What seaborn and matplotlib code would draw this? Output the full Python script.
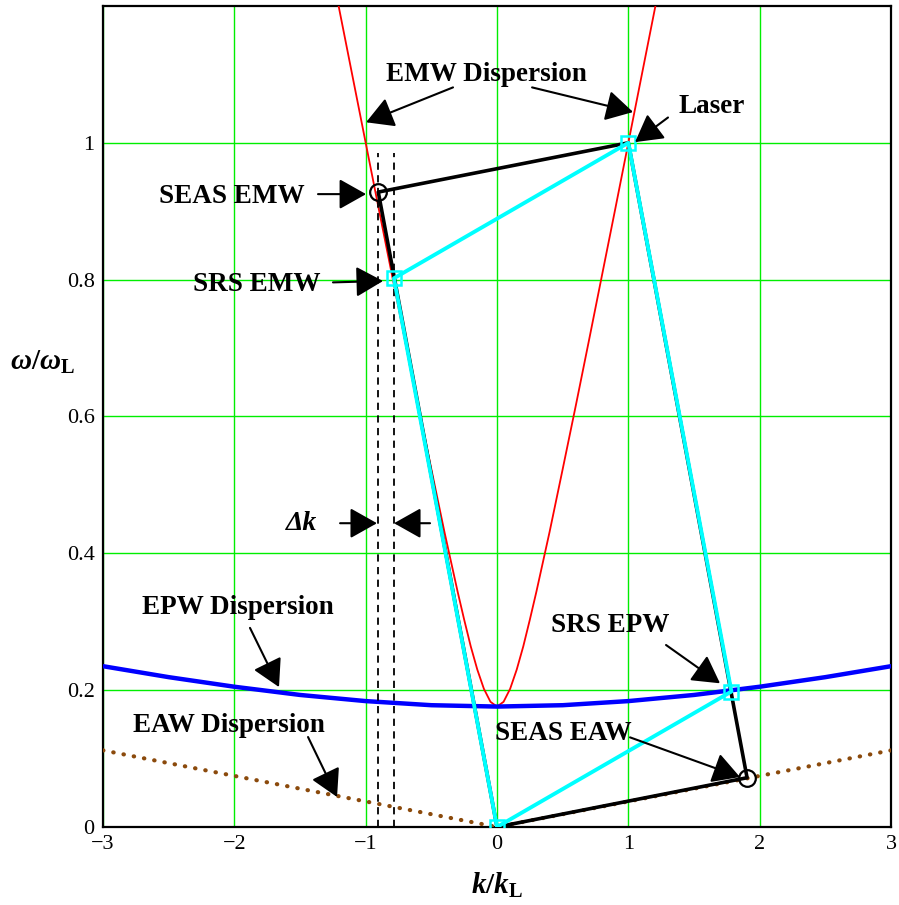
import matplotlib
matplotlib.use("Agg")
import matplotlib.pyplot as plt
import seaborn as sns
import pandas as pd

# --- dispersion curves (normalised to the laser frequency / wavenumber) ---
# EMW branch, values for k >= 0 (curve is symmetric in k)
k_emw_half = [0.0, 0.05, 0.1, 0.15, 0.2, 0.25, 0.3, 0.4, 0.5, 0.6, 0.7, 0.8, 0.9, 1.0, 1.1, 1.2, 1.3]
w_emw_half = [0.176, 0.183, 0.202, 0.230, 0.264, 0.303, 0.344, 0.431, 0.523, 0.616, 0.711,
              0.807, 0.903, 1.000, 1.097, 1.194, 1.292]

# EPW (Bohm-Gross) branch, k >= 0
k_epw_half = [0.0, 0.5, 1.0, 1.5, 2.0, 2.5, 3.0]
w_epw_half = [0.176, 0.178, 0.184, 0.193, 0.205, 0.219, 0.235]

# EAW (ion acoustic) branch
k_eaw = [-3.0, 0.0, 3.0]
w_eaw = [0.112, 0.0, 0.112]

# --- matched waves ---
k_laser, w_laser = 1.0, 1.0
k_seas_emw, w_seas_emw = -0.904, 0.928
k_seas_eaw, w_seas_eaw = 1.904, 0.072
k_srs_emw, w_srs_emw = -0.785, 0.802
k_srs_epw, w_srs_epw = 1.785, 0.198

x_ticks = [-3, -2, -1, 0, 1, 2, 3]
y_ticks = [0, 0.2, 0.4, 0.6, 0.8, 1.0]
y_tick_labels = ["0", "0.2", "0.4", "0.6", "0.8", "1"]


def mirror(ks, ws):
    kk = [-k for k in reversed(ks[1:])] + list(ks)
    ww = list(reversed(ws[1:])) + list(ws)
    return kk, ww


k_emw, w_emw = mirror(k_emw_half, w_emw_half)
k_epw, w_epw = mirror(k_epw_half, w_epw_half)

sns.set_style("white")
plt.rcParams["font.family"] = ["Liberation Serif", "DejaVu Serif"]
plt.rcParams["text.color"] = "black"
plt.rcParams["xtick.color"] = "black"
plt.rcParams["ytick.color"] = "black"
plt.rcParams["mathtext.fontset"] = "custom"
plt.rcParams["mathtext.it"] = "Liberation Serif:bold:italic"
plt.rcParams["mathtext.rm"] = "Liberation Serif:bold"
plt.rcParams["mathtext.bf"] = "Liberation Serif:bold"

fig = plt.figure(figsize=(8.99, 9.05), dpi=100)
ax = fig.add_axes([0.1146, 0.0862, 0.8765, 0.9072])

# grid
for xt in x_ticks:
    ax.axvline(xt, color="#00ee00", lw=1.0, zorder=0)
for yt in y_ticks:
    ax.axhline(yt, color="#00ee00", lw=1.0, zorder=0)

# dispersion curves
sns.lineplot(x=k_emw, y=w_emw, ax=ax, color="#ff0000", lw=1.3, sort=False,
             estimator=None, zorder=3)
sns.lineplot(x=k_epw, y=w_epw, ax=ax, color="#0000ff", lw=3.2, sort=False,
             estimator=None, zorder=3)
sns.lineplot(x=k_eaw, y=w_eaw, ax=ax, color="#8b4a0c", lw=3.0, sort=False,
             estimator=None, zorder=3, dashes=False,
             linestyle=(0, (0.1, 2.4)), dash_capstyle="round")

# delta-k markers
for kd in (k_seas_emw, k_srs_emw):
    ax.plot([kd, kd], [0, 0.985], color="black", lw=1.3, ls=(0, (4, 3)), zorder=4)

# SEAS parallelogram
seas = pd.DataFrame({
    "k": [0.0, k_seas_emw, k_laser, k_seas_eaw, 0.0],
    "w": [0.0, w_seas_emw, w_laser, w_seas_eaw, 0.0],
})
sns.lineplot(data=seas, x="k", y="w", ax=ax, color="black", lw=2.6, sort=False,
             estimator=None, zorder=5)

# SRS parallelogram
srs = pd.DataFrame({
    "k": [0.0, k_srs_emw, k_laser, k_srs_epw, 0.0],
    "w": [0.0, w_srs_emw, w_laser, w_srs_epw, 0.0],
})
sns.lineplot(data=srs, x="k", y="w", ax=ax, color="#00ffff", lw=2.8, sort=False,
             estimator=None, zorder=6)

ax.plot([0.0, k_srs_emw, k_laser, k_srs_epw], [0.0, w_srs_emw, w_laser, w_srs_epw],
        ls="none", marker="s", ms=10.5, mfc="none", mec="#00ffff", mew=1.8, zorder=7)
ax.plot([k_seas_emw, k_seas_eaw], [w_seas_emw, w_seas_eaw],
        ls="none", marker="o", ms=12, mfc="none", mec="black", mew=1.6, zorder=7)

ax.set_xlim(-3, 3)
ax.set_ylim(0, 1.2)
ax.set_xticks(x_ticks)
ax.set_xticklabels(["\u22123", "\u22122", "\u22121", "0", "1", "2", "3"])
ax.set_yticks(y_ticks)
ax.set_yticklabels(y_tick_labels)
ax.tick_params(axis="both", length=0, labelsize=16, pad=6)
for sp in ax.spines.values():
    sp.set_color("black")
    sp.set_linewidth(1.6)
ax.set_xlabel("")
ax.set_ylabel("")

fig.text(0.553, 0.022, r"$k/k_{\mathrm{L}}$", fontsize=21, ha="center", va="center")
fig.text(0.047, 0.60, r"$\omega/\omega_{\mathrm{L}}$", fontsize=21, ha="center", va="center")

arrow = dict(arrowstyle="-|>,head_length=0.8,head_width=0.45", mutation_scale=21,
             color="black", lw=1.5, shrinkA=0, shrinkB=0)
tfont = dict(fontsize=19.5, fontweight="bold", ha="center", va="center")


def label(text, xy_text, targets):
    ax.text(xy_text[0], xy_text[1], text, zorder=8, **tfont)
    for start, tip in targets:
        ax.annotate("", xy=tip, xytext=start, arrowprops=arrow, zorder=8)


label("EMW Dispersion", (-0.084, 1.100),
      [((-0.335, 1.081), (-0.997, 1.030)), ((0.267, 1.081), (1.036, 1.045))])
label("Laser", (1.637, 1.053), [((1.302, 1.037), (1.051, 1.001))])
label("SEAS EMW", (-2.018, 0.922), [((-1.363, 0.925), (-0.997, 0.925))])
label("SRS EMW", (-1.827, 0.793), [((-1.249, 0.796), (-0.868, 0.798))])
ax.text(-1.485, 0.444, "\u0394k", fontsize=20, fontweight="bold", fontstyle="italic",
        ha="center", va="center", zorder=8)
ax.annotate("", xy=(-0.914, 0.444), xytext=(-1.195, 0.444), arrowprops=arrow, zorder=8)
ax.annotate("", xy=(-0.784, 0.444), xytext=(-0.510, 0.444), arrowprops=arrow, zorder=8)
label("EPW Dispersion", (-1.972, 0.321), [((-1.881, 0.291), (-1.660, 0.2045))])
label("EAW Dispersion", (-2.041, 0.149), [((-1.439, 0.1315), (-1.218, 0.0438))])
label("SRS EPW", (0.860, 0.295), [((1.287, 0.266), (1.698, 0.210))])
label("SEAS EAW", (0.503, 0.137), [((1.013, 0.131), (1.850, 0.073))])

fig.savefig("out.png", dpi=100)
